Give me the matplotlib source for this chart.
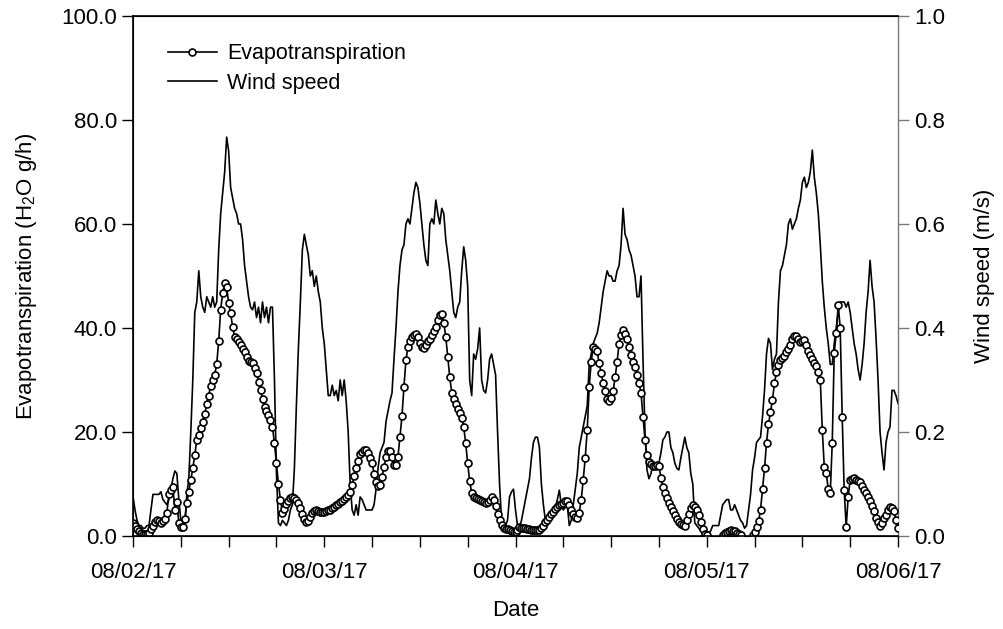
import matplotlib
matplotlib.use("Agg")
import matplotlib.pyplot as plt
import matplotlib.dates as mdates
import pandas as pd

plt.rcParams['font.family'] = ['Liberation Sans', 'DejaVu Sans']
plt.rcParams['mathtext.default'] = 'regular'

nan = float('nan')

# 15-min readings, 08/02/17 00:00 .. 08/06/17 00:00 (one row = 3 hours)
times = pd.date_range("2017-08-02 00:00", "2017-08-06 00:00", freq="15min")

et = [
    2.5, 2.0, 1.3, 0.9, 0.6, 0.3, 0.3, 0.3, 0.5, 1.3, 2.0, 2.6,
    3.0, 2.8, 2.5, 2.9, 3.3, 4.5, 8.0, 8.8, 9.5, 5.0, 6.5, 2.5,
    1.8, 1.7, 3.2, 6.3, 8.5, 10.8, 13.0, 15.5, 18.5, 19.5, 20.8, 22.0,
    23.5, 25.3, 27.0, 28.9, 30.0, 31.0, 33.0, 37.5, 43.5, 46.7, 48.7, 47.9,
    44.8, 42.8, 40.2, 38.3, 37.8, 37.3, 36.8, 35.9, 35.3, 34.5, 33.7, 33.4,
    33.2, 32.3, 31.3, 29.6, 28.0, 26.3, 24.8, 24.0, 23.3, 22.3, 21.0, 17.8,
    14.0, 10.0, 7.0, 4.5, 5.2, 6.2, 6.8, 7.3, 7.4, 7.3, 7.0, 6.3,
    5.4, 4.3, 3.2, 2.6, 2.8, 3.7, 4.4, 4.8, 5.0, 4.8, 4.7, 4.6,
    # 08/03
    4.6, 4.8, 4.9, 5.0, 5.3, 5.6, 5.9, 6.2, 6.5, 6.8, 7.1, 7.4,
    7.8, 8.5, 9.8, 11.5, 13.0, 14.5, 15.7, 16.2, 16.5, 16.5, 16.0, 15.0,
    14.0, 12.0, 10.3, 9.6, 9.8, 11.3, 13.2, 15.2, 16.3, 16.3, 15.2, 13.6,
    13.6, 15.2, 19.0, 23.0, 28.7, 33.8, 36.3, 37.5, 38.3, 38.6, 38.8, 38.2,
    37.2, 36.4, 36.2, 36.8, 37.4, 37.8, 38.6, 39.4, 40.2, 41.5, 42.5, 42.7,
    41.0, 38.3, 34.4, 30.5, 27.5, 26.3, 25.3, 24.4, 23.6, 22.6, 21.0, 17.8,
    14.0, 10.5, 8.3, 7.5, 7.3, 7.1, 7.0, 6.8, 6.6, 6.4, 6.5, 7.0,
    7.5, 7.0, 5.8, 4.2, 3.0, 2.2, 1.6, 1.4, 1.3, 1.2, 1.0, 0.8,
    # 08/04
    0.7, 1.2, 1.7, 1.6, 1.6, 1.5, 1.4, 1.3, 1.2, 1.2, 1.2, 1.2,
    1.2, 1.5, 2.0, 2.6, 3.1, 3.6, 4.2, 4.7, 5.2, 5.6, 5.9, 6.2,
    6.4, 6.7, 6.8, 6.0, 5.0, 4.3, 3.6, 3.5, 4.5, 7.0, 10.8, 15.0,
    20.4, 28.7, 33.5, 36.3, 36.0, 35.5, 33.2, 31.3, 29.4, 27.8, 26.4, 26.0,
    26.6, 27.8, 30.5, 33.5, 37.0, 38.6, 39.6, 38.9, 37.9, 36.3, 34.8, 33.5,
    32.5, 31.0, 29.5, 27.5, 22.9, 18.5, 15.5, 14.2, 13.8, 13.5, 13.4, 13.6,
    13.5, 11.2, 9.4, 8.3, 7.3, 6.4, 5.6, 4.8, 4.0, 3.3, 2.6, 2.3,
    2.1, 2.0, 3.0, 4.3, 5.3, 5.9, 5.6, 4.9, 4.0, 2.6, 1.4, 0.4,
    # 08/05
    0.1, nan, nan, nan, nan, nan, nan, nan, 0.2, 0.5, 0.8, 1.0,
    1.1, 1.0, 0.9, 0.6, 0.3, 0.1, nan, nan, nan, nan, nan, 0.2,
    0.8, 1.7, 2.8, 5.0, 9.0, 13.0, 17.9, 21.5, 23.8, 26.2, 29.4, 31.5,
    32.8, 33.9, 34.3, 34.7, 35.3, 36.0, 36.8, 37.8, 38.5, 38.5, 37.8, 37.3,
    37.5, 37.7, 36.8, 35.6, 34.8, 34.0, 33.2, 32.6, 31.5, 30.0, 20.4, 13.3,
    12.1, 9.0, 8.2, 17.9, 35.2, 39.0, 44.5, 40.0, 22.9, 8.8, 1.7, 7.5,
    10.8, 11.0, 11.1, 10.8, 10.6, 10.4, 9.6, 8.9, 8.2, 7.5, 6.7, 5.8,
    4.8, 3.4, 2.6, 1.9, 2.5, 3.4, 4.0, 4.9, 5.6, 5.3, 4.8, 3.0,
    1.5,
]

wind = [
    0.075, 0.05, 0.03, 0.02, 0.02, 0.015, 0.015, 0.02, 0.02, 0.05, 0.08, 0.08,
    0.08, 0.08, 0.085, 0.07, 0.065, 0.06, 0.07, 0.09, 0.11, 0.125, 0.12, 0.07,
    0.03, 0.01, 0.02, 0.08, 0.11, 0.20, 0.30, 0.43, 0.45, 0.51, 0.46, 0.44,
    0.43, 0.46, 0.45, 0.44, 0.46, 0.44, 0.45, 0.55, 0.62, 0.66, 0.70, 0.767,
    0.74, 0.67, 0.65, 0.63, 0.62, 0.60, 0.60, 0.57, 0.52, 0.49, 0.46, 0.44,
    0.435, 0.45, 0.42, 0.44, 0.41, 0.45, 0.42, 0.44, 0.41, 0.44, 0.44, 0.30,
    0.12, 0.025, 0.02, 0.03, 0.025, 0.02, 0.03, 0.05, 0.06, 0.13, 0.25, 0.36,
    0.45, 0.55, 0.58, 0.56, 0.54, 0.50, 0.51, 0.48, 0.50, 0.47, 0.45, 0.40,
    # 08/03
    0.37, 0.32, 0.27, 0.27, 0.29, 0.27, 0.28, 0.26, 0.30, 0.27, 0.30, 0.26,
    0.20, 0.10, 0.05, 0.04, 0.06, 0.04, 0.075, 0.07, 0.06, 0.05, 0.05, 0.05,
    0.05, 0.06, 0.09, 0.13, 0.16, 0.17, 0.18, 0.22, 0.24, 0.26, 0.275, 0.34,
    0.40, 0.47, 0.52, 0.55, 0.56, 0.60, 0.61, 0.60, 0.63, 0.66, 0.68, 0.67,
    0.64, 0.60, 0.56, 0.53, 0.52, 0.60, 0.61, 0.60, 0.646, 0.62, 0.60, 0.63,
    0.62, 0.57, 0.54, 0.51, 0.47, 0.43, 0.42, 0.44, 0.45, 0.51, 0.556, 0.53,
    0.48, 0.30, 0.27, 0.35, 0.34, 0.36, 0.40, 0.30, 0.28, 0.275, 0.30, 0.34,
    0.35, 0.33, 0.31, 0.20, 0.10, 0.03, 0.02, 0.02, 0.03, 0.075, 0.085, 0.09,
    # 08/04
    0.05, 0.02, 0.015, 0.03, 0.05, 0.07, 0.09, 0.11, 0.15, 0.18, 0.19, 0.19,
    0.17, 0.10, 0.06, 0.03, 0.03, 0.03, 0.035, 0.045, 0.055, 0.07, 0.088, 0.06,
    0.05, 0.055, 0.06, 0.02, 0.03, 0.06, 0.09, 0.12, 0.17, 0.19, 0.21, 0.23,
    0.25, 0.33, 0.35, 0.37, 0.38, 0.39, 0.41, 0.44, 0.47, 0.49, 0.51, 0.50,
    0.50, 0.49, 0.49, 0.51, 0.52, 0.56, 0.63, 0.58, 0.57, 0.55, 0.54, 0.52,
    0.50, 0.46, 0.46, 0.50, 0.34, 0.20, 0.127, 0.11, 0.12, 0.14, 0.135, 0.127,
    0.14, 0.16, 0.185, 0.19, 0.20, 0.20, 0.17, 0.16, 0.14, 0.13, 0.127, 0.15,
    0.17, 0.19, 0.17, 0.16, 0.12, 0.10, 0.025, 0.02, 0.015, 0.01, 0.005, 0.005,
    # 08/05
    0.005, 0.005, 0.01, 0.02, 0.02, 0.02, 0.02, 0.04, 0.06, 0.065, 0.07, 0.07,
    0.05, 0.05, 0.06, 0.05, 0.04, 0.03, 0.025, 0.015, 0.02, 0.05, 0.08, 0.127,
    0.15, 0.18, 0.185, 0.19, 0.23, 0.28, 0.35, 0.38, 0.37, 0.32, 0.34, 0.35,
    0.45, 0.51, 0.52, 0.54, 0.56, 0.60, 0.61, 0.59, 0.60, 0.61, 0.63, 0.646,
    0.68, 0.69, 0.67, 0.68, 0.70, 0.742, 0.69, 0.66, 0.62, 0.56, 0.49, 0.44,
    0.40, 0.37, 0.33, 0.33, 0.37, 0.40, 0.43, 0.45, 0.45, 0.45, 0.44, 0.45,
    0.43, 0.40, 0.37, 0.35, 0.32, 0.30, 0.33, 0.37, 0.43, 0.47, 0.53, 0.48,
    0.45, 0.38, 0.30, 0.20, 0.16, 0.127, 0.18, 0.20, 0.21, 0.28, 0.28, 0.27,
    0.255,
]

fig = plt.figure(figsize=(10.04, 6.29), dpi=100)
ax = fig.add_axes([0.1325, 0.1479, 0.7619, 0.8267])
ax2 = ax.twinx()

l2, = ax2.plot(times, wind, color='black', lw=1.2, label='Wind speed')
l1, = ax.plot(times, et, '-o', color='black', lw=1.2, ms=5.0, mfc='white',
              mec='black', mew=1.2, label='Evapotranspiration')

# keep ET markers above the wind line
ax.set_zorder(ax2.get_zorder() + 1)
ax.patch.set_visible(False)

ax.set_xlim(times[0], times[-1])
ax.set_ylim(0, 100)
ax2.set_ylim(0, 1)

ax.set_yticks([0, 20, 40, 60, 80, 100])
ax.set_yticklabels(['%.1f' % v for v in [0, 20, 40, 60, 80, 100]])
ax2.set_yticks([0, 0.2, 0.4, 0.6, 0.8, 1.0])
ax2.set_yticklabels(['%.1f' % v for v in [0, 0.2, 0.4, 0.6, 0.8, 1.0]])

ax.xaxis.set_major_locator(mdates.DayLocator())
ax.xaxis.set_major_formatter(mdates.DateFormatter('%m/%d/%y'))
ax.xaxis.set_minor_locator(mdates.HourLocator(byhour=[6, 12, 18]))

fs = 16
ax.tick_params(axis='x', which='both', direction='out', length=8, width=1, pad=11, labelsize=fs)
ax.tick_params(axis='y', direction='out', length=8, width=1, labelsize=fs)
ax2.tick_params(axis='y', direction='out', length=8, width=1, labelsize=fs,
                color='#777777')

ax.spines['right'].set_visible(False)
for s in ['left', 'bottom', 'top']:
    ax.spines[s].set_linewidth(1.2)
ax2.spines['right'].set_color('#777777')
ax2.spines['right'].set_linewidth(1.0)

ax.set_xlabel('Date', fontsize=fs, labelpad=12)
ax.set_ylabel('Evapotranspiration (H$_2$O g/h)', fontsize=fs, labelpad=16)
ax2.set_ylabel('Wind speed (m/s)', fontsize=fs, labelpad=21)

ax.legend(handles=[l1, l2], loc='upper left', bbox_to_anchor=(0.02, 0.985),
          frameon=False, fontsize=15.5, numpoints=1, handlelength=2.3,
          handletextpad=0.45, labelspacing=0.4)

fig.savefig('out.png', dpi=100)
